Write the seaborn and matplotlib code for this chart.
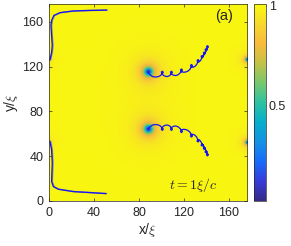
import numpy as np
import pandas as pd
import matplotlib
matplotlib.use('Agg')
import matplotlib.pyplot as plt
from matplotlib.colors import LinearSegmentedColormap
import seaborn as sns

# domain size (units of xi)
L = 176

# vortex cores: position and core size
vortex_x = [88, 88, 175.6, 175.6, -4, -4]
vortex_y = [115, 64, 126, 52, 126, 52]
vortex_a = [3.2, 3.2, 1.4, 1.4, 1.3, 1.3]

# trajectories (x, y)
upper_path = [(88, 115), (90, 112.5), (92, 111.2), (94.5, 110.7), (97, 111), (99, 112),
              (100.5, 113.5), (101.6, 114.8), (100.9, 115.9), (99.9, 115.2), (100.5, 113.5),
              (102, 112), (104, 111.2), (105.5, 111.2), (107.3, 112),
              (108.6, 113.5), (109.7, 114.8), (109, 115.9), (108, 115.2), (108.6, 113.5),
              (110.5, 112.4), (112.5, 112), (114.5, 112.6), (116.2, 114),
              (117.5, 115.5), (118.6, 116.8), (117.9, 117.9), (116.9, 117.2), (117.5, 115.5),
              (119.5, 115), (121.5, 115.2), (123.5, 116), (125.2, 117.5),
              (126.4, 119.5), (127.5, 120.8), (126.8, 121.9), (125.8, 121.2), (126.4, 119.5),
              (128.3, 119.5), (130, 120.5), (131.3, 122),
              (132.2, 124), (133.3, 125.2), (132.6, 126.3), (131.6, 125.6), (132.2, 124),
              (133.8, 124.5), (135, 126),
              (135.8, 127.8), (136.9, 128.9), (136.2, 130), (135.2, 129.3), (135.8, 127.8),
              (137, 128.8),
              (137.8, 130.8), (138.9, 131.9), (138.2, 133), (137.2, 132.3), (137.8, 130.8),
              (138.9, 132),
              (139.3, 133.8), (140.4, 134.9), (139.7, 136), (138.7, 135.3), (139.3, 133.8),
              (140.3, 135.2),
              (140.6, 136.5), (141.7, 137.6), (141, 138.7), (140, 138), (140.6, 136.5)]

lower_path = [(88, 64), (90, 66.5), (92, 67.8), (94.5, 68.3), (97, 68), (99, 67),
              (100.5, 65.5), (101.6, 64.2), (100.9, 63.1), (99.9, 63.8), (100.5, 65.5),
              (102, 67), (104, 67.8), (105.5, 67.8), (107.3, 67),
              (108.6, 65.5), (109.7, 64.2), (109, 63.1), (108, 63.8), (108.6, 65.5),
              (110.5, 66.6), (112.5, 67), (114.5, 66.4), (116.2, 65),
              (117.5, 63.5), (118.6, 62.2), (117.9, 61.1), (116.9, 61.8), (117.5, 63.5),
              (119.5, 64), (121.5, 63.8), (123.5, 63), (125.2, 61.5),
              (126.4, 59.5), (127.5, 58.2), (126.8, 57.1), (125.8, 57.8), (126.4, 59.5),
              (128.3, 59.5), (130, 58.5), (131.3, 57),
              (132.2, 55), (133.3, 53.8), (132.6, 52.7), (131.6, 53.4), (132.2, 55),
              (133.8, 54.5), (135, 53),
              (135.8, 51.2), (136.9, 50.1), (136.2, 49), (135.2, 49.7), (135.8, 51.2),
              (137, 50.2),
              (137.8, 48.2), (138.9, 47.1), (138.2, 46), (137.2, 46.7), (137.8, 48.2),
              (138.9, 47),
              (139.3, 45.2), (140.4, 44.1), (139.7, 43), (138.7, 43.7), (139.3, 45.2),
              (140.3, 43.8),
              (140.6, 42.5), (141.7, 41.4), (141, 40.3), (140, 41), (140.6, 42.5)]

edge_top = [(0.9, 125.9), (2.4, 132.8), (3.0, 138.7), (2.4, 147.7), (1.8, 156.7),
            (2.4, 161.2), (4.4, 165.7), (9.8, 168.2), (21.6, 169.7), (36.4, 170.2), (51.3, 170.5)]
edge_bottom = [(0.9, 53.3), (2.4, 45.8), (3.0, 33.9), (2.4, 17.4), (3.9, 12.9),
               (8.3, 10.5), (21.6, 8.4), (36.4, 7.5), (50.7, 6.6)]

ticks = [0, 40, 80, 120, 160]
cbar_ticks = [0.5, 1]

# parula-like colormap
parula = LinearSegmentedColormap.from_list('parula', [
    (0.2081, 0.1663, 0.5292), (0.2116, 0.2314, 0.8500), (0.0886, 0.4203, 0.9823),
    (0.0780, 0.5702, 0.8931), (0.0239, 0.6838, 0.7948), (0.1814, 0.7578, 0.6316),
    (0.4709, 0.7818, 0.4301), (0.7650, 0.7602, 0.2710), (0.9730, 0.7322, 0.2351),
    (0.9672, 0.8477, 0.1782), (0.9763, 0.9831, 0.0538)])

sns.set_theme(style='ticks')
plt.rcParams['font.family'] = ['Liberation Sans', 'DejaVu Sans']
plt.rcParams['mathtext.fontset'] = 'cm'

# density field built from the vortex cores
g = np.linspace(0, L, 400)
X, Y = np.meshgrid(g, g)
rho = np.ones_like(X)
for vx, vy, a in zip(vortex_x, vortex_y, vortex_a):
    r2 = (X - vx) ** 2 + (Y - vy) ** 2
    rho *= r2 / (r2 + a ** 2)

fig = plt.figure(figsize=(2.91, 2.46), dpi=100)
ax = fig.add_axes([0.168, 0.183, 0.681, 0.801])
im = ax.imshow(rho, extent=[0, L, 0, L], origin='lower', cmap=parula,
               vmin=0.02, vmax=1.01, aspect='auto', interpolation='bilinear')

for path in [edge_top, edge_bottom]:
    df = pd.DataFrame(path, columns=['x', 'y'])
    sns.lineplot(data=df, x=df['x'] + 0.6, y='y', sort=False, estimator=None,
                 color='#8a8a9a', lw=1.1, ax=ax)
for path in [edge_top, edge_bottom, upper_path, lower_path]:
    df = pd.DataFrame(path, columns=['x', 'y'])
    sns.lineplot(data=df, x='x', y='y', sort=False, estimator=None,
                 color='#1414f0', lw=0.9, ax=ax)

ax.set_xlim(0, L)
ax.set_ylim(0, L)
ax.set_xticks(ticks)
ax.set_yticks(ticks)
ax.tick_params(direction='in', top=True, right=True, length=2.5, width=0.5,
               labelsize=9, colors='#262626', pad=4)
for s in ax.spines.values():
    s.set_linewidth(0.5)
    s.set_color('#262626')
ax.set_xlabel(r'x/$\xi$', fontsize=10, color='#262626', labelpad=2)
ax.set_ylabel(r'y/$\xi$', fontsize=10, color='#262626', labelpad=2)

ax.text(156, 165, '(a)', fontsize=10.5, ha='center', va='center', color='#262626')
ax.text(128, 14.5, r'$t=1\xi/c$', fontsize=10, ha='center', va='center')

cax = fig.add_axes([0.873, 0.183, 0.041, 0.801])
cb = fig.colorbar(im, cax=cax, ticks=cbar_ticks)
cb.ax.set_yticklabels(['0.5', '1'])
cb.ax.tick_params(direction='in', length=2.5, width=0.5, labelsize=9,
                  colors='#262626', pad=2)
cb.outline.set_linewidth(0.5)

fig.savefig('out.png', dpi=100)
